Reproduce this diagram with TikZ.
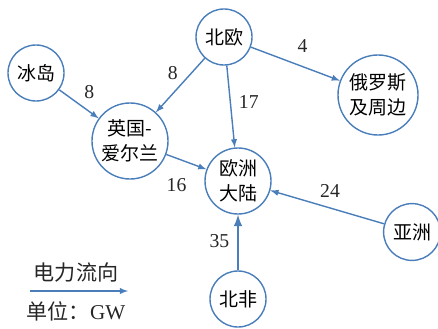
\documentclass[tikz,border=0pt]{standalone}
\usepackage{fontspec}
\setmainfont{Liberation Serif}
\newfontfamily\cjk{Noto Sans CJK SC}
\usetikzlibrary{arrows}
\definecolor{flowblue}{RGB}{74,126,187}
\tikzset{
	region/.style={circle, draw=flowblue, line width=1pt, inner sep=0pt, align=center, font=\cjk\fontsize{13.5}{18}\selectfont},
	flow/.style={draw=flowblue, line width=1pt, arrows={-latex}},
	amount/.style={font=\fontsize{14}{16}\selectfont, text=black!85}
}
\begin{document}
\begin{tikzpicture}[x=0.025cm, y=-0.025cm]

	\useasboundingbox (0,0) rectangle (438,328);
	\node [region, minimum size=1.4cm] (iceland) at (36,73) {冰岛};
	\node [region, minimum size=1.4cm] (nordic) at (224,37) {北欧};
	\node [region, minimum size=1.9cm] (britain) at (130,141) {英国-\\爱尔兰};
	\node [region, minimum size=2.0cm] (russia) at (378,95) {俄罗斯\\及周边};
	\node [region, minimum size=1.65cm] (europe) at (238,181) {欧洲\\大陆};
	\node [region, minimum size=1.42cm] (asia) at (412,232) {亚洲};
	\node [region, minimum size=1.4cm] (africa) at (238,299) {北非};
	\draw [flow] (iceland) -- (britain) node [amount, midway, above right] {8};
	\draw [flow] (nordic) -- (britain) node [amount, midway, above left, xshift=2pt] {8};
	\draw [flow] (nordic) -- (russia) node [amount, midway, above, xshift=5pt, yshift=4pt] {4};
	\draw [flow] (nordic) -- (europe) node [amount, midway, right, xshift=2pt, yshift=3pt] {17};
	\draw [flow] (britain) -- (europe) node [amount, midway, below, xshift=-7pt, yshift=-8pt] {16};
	\draw [flow] (asia) -- (europe) node [amount, midway, above, xshift=2pt, yshift=3pt] {24};
	\draw [flow, line width=1.8pt] (africa) -- (europe) node [amount, midway, left, xshift=-2pt, yshift=1pt] {35};
	\coordinate (legstart) at (30,291);
	\coordinate (legend) at (128,291);
	\draw [flow] (legstart) -- (legend);
	\node [font=\cjk\fontsize{15}{16}\selectfont, text=black!85] (legtitle) at (76,273) {电力流向};
	\node [font=\fontsize{15}{16}\selectfont, text=black!85] (legunit) at (76,311) {{\cjk 单位：}GW};

\end{tikzpicture}
\end{document}
